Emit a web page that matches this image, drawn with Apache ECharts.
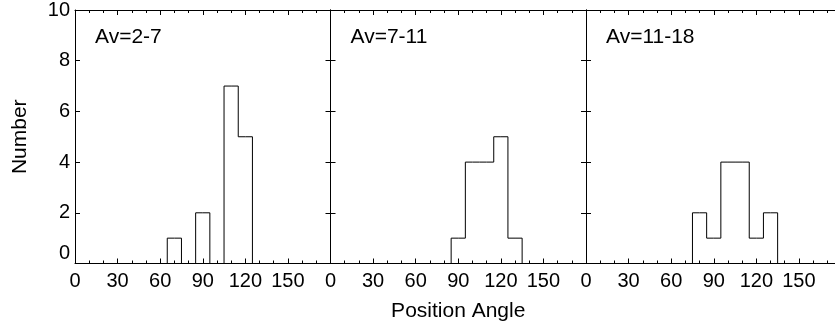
<!DOCTYPE html>
<html>
<head>
<meta charset="utf-8">
<script src="https://cdn.jsdelivr.net/npm/echarts@6/dist/echarts.min.js"></script>
<style>
  html, body { margin: 0; padding: 0; background: #fff; overflow: hidden; }
  /* the original figure is cut off on the right, so the chart is a little wider than the window */
  #chart { width: 845px; height: 330px; }
</style>
</head>
<body>
<div id="chart"></div>
<script>
// bin centres (degrees), bins are 10 deg wide
const angles = [0, 10, 20, 30, 40, 50, 60, 70, 80, 90, 100, 110, 120, 130, 140, 150, 160, 170, 180];
// counts per bin for each extinction range
const countsAv2to7 =   [0, 0, 0, 0, 0, 0, 0, 1, 0, 2, 0, 7, 5, 0, 0, 0, 0, 0, 0];
const countsAv7to11 =  [0, 0, 0, 0, 0, 0, 0, 0, 0, 1, 4, 4, 5, 1, 0, 0, 0, 0, 0];
const countsAv11to18 = [0, 0, 0, 0, 0, 0, 0, 0, 2, 1, 4, 4, 1, 2, 0, 0, 0, 0, 0];
const panelLabels = ["Av=2-7", "Av=7-11", "Av=11-18"];
const xTicks = [0, 30, 60, 90, 120, 150];
const yTicks = [0, 2, 4, 6, 8, 10];

const panels = [countsAv2to7, countsAv7to11, countsAv11to18];
const font = "Liberation Sans";
const panelLeft = [75, 330.5, 586];
const panelWidth = 255.5;

var myChart = echarts.init(document.getElementById("chart"));

const grid = [], xAxis = [], yAxis = [], series = [], title = [];
panels.forEach(function (counts, i) {
  grid.push({ left: panelLeft[i], top: 10, width: panelWidth, height: 253.5 });

  const xBase = {
    type: "value", gridIndex: i, min: 0, max: 180, interval: 30,
    axisLine: { show: true, onZero: false, lineStyle: { color: "#000", width: 1 } },
    axisTick: { show: true, inside: true, length: 5, lineStyle: { color: "#000" } },
    minorTick: { show: true, splitNumber: 3, length: 3, lineStyle: { color: "#000" } },
    splitLine: { show: false }
  };
  xAxis.push(Object.assign({}, xBase, {
    position: "bottom",
    axisLabel: {
      show: true, fontSize: 20, fontFamily: font, color: "#000", margin: 8,
      showMaxLabel: false,
      formatter: function (v) { return xTicks.indexOf(v) >= 0 ? String(v) : ""; }
    },
    name: i === 1 ? "Position Angle" : "",
    nameLocation: "middle", nameGap: 37,
    nameTextStyle: { fontSize: 21, fontFamily: font, color: "#000" }
  }));
  xAxis.push(Object.assign({}, xBase, { position: "top", axisLabel: { show: false } }));

  const yBase = {
    type: "value", gridIndex: i, min: 0, max: 10, interval: 2,
    axisLine: { show: true, onZero: false, lineStyle: { color: "#000", width: 1 } },
    axisTick: { show: true, inside: true, length: 5, lineStyle: { color: "#000" } },
    splitLine: { show: false }
  };
  yAxis.push(Object.assign({}, yBase, {
    position: "left",
    axisLabel: {
      show: i === 0, fontSize: 20, fontFamily: font, color: "#000", margin: 5,
      verticalAlignMinLabel: "bottom",
      formatter: function (v) { return yTicks.indexOf(v) >= 0 ? String(v) : ""; }
    },
    name: i === 0 ? "Number" : "",
    nameLocation: "middle", nameGap: 44,
    nameTextStyle: { fontSize: 21, fontFamily: font, color: "#000" }
  }));
  yAxis.push(Object.assign({}, yBase, { position: "right", axisLabel: { show: false } }));

  series.push({
    type: "line", step: "middle", xAxisIndex: i * 2, yAxisIndex: i * 2,
    data: angles.map(function (a, k) { return [a, counts[k]]; }),
    showSymbol: false, symbol: "none",
    lineStyle: { color: "#000", width: 1 },
    clip: false, animation: false
  });

  title.push({
    text: panelLabels[i], left: panelLeft[i] + 15, top: 22,
    textStyle: { fontSize: 21, fontWeight: "normal", fontFamily: font, color: "#000" }
  });
});

myChart.setOption({
  animation: false,
  backgroundColor: "#fff",
  title: title,
  grid: grid,
  xAxis: xAxis,
  yAxis: yAxis,
  series: series
});
</script>
</body>
</html>
